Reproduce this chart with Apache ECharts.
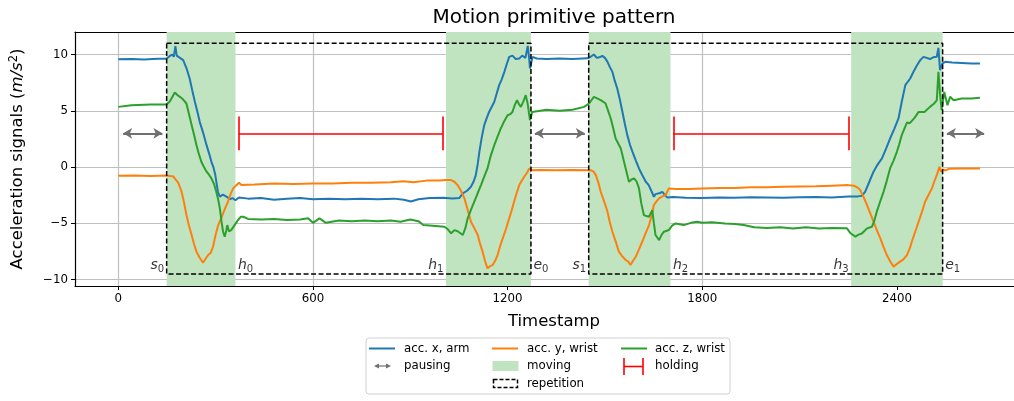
<!DOCTYPE html>
<html>
<head>
<meta charset="utf-8">
<script src="https://cdn.jsdelivr.net/npm/echarts@6/dist/echarts.min.js"></script>
<style>
html, body { margin: 0; padding: 0; background: #fff; }
#chart { width: 1014px; height: 401px; }
</style>
</head>
<body>
<div id="chart"></div>
<script>
// acc. x, arm
var tArm = [0,40,80,120,148,158,166,171,176,180,190,200,210,220,228,236,244,251,262,272,280,287,293,299,307,313,322,332,338,345,352,361,372,400,440,480,520,560,600,650,700,750,800,850,880,902,925,960,1000,1030,1051,1062,1075,1087,1095,1102,1108,1113,1120,1128,1135,1143,1150,1159,1166,1174,1182,1190,1198,1205,1215,1225,1236,1245,1255,1262,1266,1269,1277,1290,1320,1360,1400,1446,1456,1466,1475,1483,1492,1500,1508,1515,1523,1530,1538,1546,1554,1561,1569,1577,1585,1595,1605,1615,1626,1635,1641,1646,1651,1656,1662,1670,1677,1685,1692,1710,1750,1800,1850,1900,1950,2000,2050,2100,2150,2200,2250,2280,2292,2302,2315,2328,2340,2354,2366,2379,2392,2405,2415,2426,2434,2441,2450,2462,2472,2482,2492,2502,2512,2523,2528,2533,2540,2549,2570,2600,2630,2656]
var accArmX = [9.58,9.6,9.55,9.62,9.62,9.85,10.0,9.8,10.75,9.9,9.7,9.5,8.8,7.87,6.8,5.8,4.9,4.02,3.0,1.95,1.2,0.47,0,-0.71,-2.19,-2.63,-2.45,-2.6,-2.45,-2.85,-2.75,-2.95,-2.7,-2.8,-2.75,-2.9,-2.8,-2.75,-2.85,-2.8,-2.85,-2.8,-2.85,-2.8,-2.9,-3.05,-2.85,-2.75,-2.72,-2.78,-2.75,-2.34,-2.1,-1.75,-1.3,-0.71,0.3,1.36,2.6,3.73,4.3,4.9,5.3,5.8,6.5,7.28,7.8,8.46,9.2,9.79,9.9,9.6,9.65,9.9,9.7,10.77,9.8,8.76,9.79,9.65,9.6,9.65,9.6,9.66,9.8,10.0,9.7,9.75,9.88,9.7,9.35,8.9,8.46,7.7,6.98,6.0,4.9,3.9,2.84,2.0,1.36,0.6,-0.12,-0.7,-1.3,-1.6,-1.75,-2.3,-2.64,-2.4,-2.5,-2.3,-2.19,-2.5,-2.69,-2.65,-2.72,-2.75,-2.7,-2.72,-2.68,-2.7,-2.72,-2.68,-2.66,-2.7,-2.62,-2.6,-2.55,-2.19,-1.3,-0.41,0.2,0.77,1.6,2.54,3.4,4.32,5.8,7.28,7.6,7.87,8.4,9.05,9.5,9.79,9.7,9.6,9.75,9.8,10.59,8.6,9.2,9.35,9.3,9.25,9.2,9.2]

// acc. y, wrist
var tWristY = [0,50,100,148,160,169,175,185,195,203,210,218,226,234,241,250,261,270,277,285,292,300,308,315,323,330,338,346,354,364,372,380,420,480,540,600,660,720,780,840,880,910,950,990,1010,1026,1036,1046,1056,1067,1077,1087,1097,1108,1115,1123,1130,1138,1146,1154,1162,1169,1177,1185,1195,1205,1213,1220,1228,1236,1244,1251,1260,1267,1275,1300,1350,1400,1456,1465,1472,1480,1487,1497,1508,1515,1523,1533,1543,1553,1564,1572,1579,1587,1595,1605,1615,1625,1636,1644,1651,1660,1667,1677,1687,1697,1720,1760,1800,1850,1900,1950,2000,2050,2100,2150,2200,2250,2267,2278,2287,2298,2308,2318,2328,2338,2349,2359,2369,2380,2390,2400,2410,2420,2431,2440,2446,2457,2467,2477,2487,2497,2508,2515,2523,2531,2536,2542,2550,2560,2600,2656]
var accWristY = [-0.77,-0.75,-0.8,-0.75,-0.8,-0.82,-0.9,-1.4,-2.19,-3.2,-4.26,-5.2,-6.03,-6.9,-7.51,-8.0,-8.49,-8.1,-7.81,-7.6,-7.07,-6.0,-5.15,-4.7,-4.11,-3.6,-3.08,-2.4,-1.89,-1.6,-1.4,-1.6,-1.55,-1.45,-1.5,-1.45,-1.45,-1.4,-1.4,-1.35,-1.25,-1.35,-1.2,-1.2,-1.15,-1.15,-1.3,-1.6,-2.1,-2.78,-3.8,-4.85,-5.4,-6.03,-6.8,-7.51,-8.3,-8.99,-8.8,-8.7,-8.3,-7.81,-7.0,-6.33,-5.5,-4.55,-3.8,-3.08,-2.3,-1.6,-1.2,-0.86,-0.5,-0.12,-0.27,-0.25,-0.28,-0.25,-0.27,-0.4,-0.71,-1.4,-2.19,-3.0,-3.96,-4.9,-5.74,-6.6,-7.51,-7.9,-8.25,-8.4,-8.7,-8.3,-7.96,-7.3,-6.63,-5.9,-5.15,-4.3,-3.37,-3.0,-2.78,-2.6,-2.48,-1.89,-1.95,-1.95,-1.9,-1.85,-1.85,-1.8,-1.8,-1.75,-1.72,-1.7,-1.65,-1.6,-1.65,-1.8,-2.04,-2.7,-3.37,-4.1,-4.85,-5.6,-6.33,-7.1,-7.81,-8.4,-8.84,-8.6,-8.4,-8.2,-7.81,-7.2,-6.63,-5.7,-4.85,-4.0,-3.08,-2.5,-1.89,-1.3,-0.71,0.03,-0.4,-0.2,-0.3,-0.15,-0.12,-0.12]

// acc. z, wrist
var tWristZ = [0,40,100,148,158,164,174,182,190,200,210,218,226,234,241,248,256,264,272,280,287,295,302,308,313,318,323,328,333,336,341,348,354,362,369,378,385,400,440,480,520,560,585,600,620,640,680,720,760,800,840,870,900,925,940,970,1005,1015,1026,1036,1046,1062,1070,1077,1087,1097,1108,1118,1128,1138,1148,1159,1169,1179,1190,1200,1208,1215,1222,1229,1235,1241,1248,1256,1262,1269,1276,1282,1320,1360,1400,1436,1451,1466,1476,1487,1495,1502,1510,1518,1526,1533,1541,1549,1557,1564,1574,1582,1590,1598,1605,1612,1620,1628,1636,1641,1646,1651,1656,1667,1675,1682,1697,1707,1718,1743,1765,1785,1800,1830,1870,1900,1928,1960,2000,2040,2080,2120,2160,2200,2246,2258,2272,2282,2292,2308,2323,2330,2338,2348,2359,2369,2379,2390,2400,2407,2415,2423,2431,2440,2446,2455,2467,2485,2502,2513,2523,2528,2533,2538,2546,2556,2564,2575,2600,2630,2656]
var accWristZ = [5.35,5.5,5.55,5.55,5.8,6.1,6.63,6.4,6.24,6.0,5.65,4.7,3.73,2.8,1.95,1.2,0.47,0.0,-0.41,-0.7,-1.0,-1.5,-2.19,-2.9,-3.67,-4.8,-5.74,-6.18,-5.6,-5.15,-5.7,-5.6,-5.44,-5.0,-4.7,-4.4,-4.41,-4.6,-4.65,-4.6,-4.7,-4.65,-4.55,-4.95,-4.55,-4.95,-4.75,-4.8,-4.75,-4.8,-4.75,-4.85,-4.65,-4.8,-5.15,-5.2,-5.3,-5.5,-5.88,-5.6,-5.7,-6.03,-5.4,-4.55,-3.8,-3.08,-2.3,-1.6,-0.85,-0.12,1.0,1.95,2.7,3.43,4.1,4.61,4.7,4.9,5.5,5.94,5.6,5.35,5.8,6.39,5.6,4.17,4.9,5.06,5.1,5.0,5.1,5.35,5.65,6.24,6.1,5.94,5.8,5.65,5.0,4.32,3.4,2.54,2.1,1.66,0.7,-0.12,-1.3,-1.1,-1.0,-1.3,-1.89,-3.2,-4.26,-4.35,-4.41,-4.3,-3.82,-5.0,-6.03,-6.48,-6.0,-5.74,-5.59,-5.2,-5.0,-5.15,-4.95,-4.85,-4.95,-4.9,-5.0,-5.05,-5.15,-5.35,-5.4,-5.35,-5.45,-5.35,-5.45,-5.4,-5.44,-5.9,-6.18,-6.0,-5.9,-5.44,-5.3,-4.8,-3.96,-3.1,-2.19,-1.2,-0.12,0.6,1.36,2.0,2.84,3.4,3.96,3.9,3.9,4.4,4.9,4.9,5.35,5.6,5.94,8.46,6.5,5.06,6.68,5.5,6.24,5.94,6.1,6.1,6.15]

// phases
var movingStart = [149, 1010, 1450, 2259]
var movingEnd = [361, 1272, 1702, 2541]
var repStart = [149, 1450]
var repEnd = [1272, 2541]
var repTop = 11
var repBottom = -9.5
var pauseFrom = [15, 1284, 2554]
var pauseTo = [136, 1438, 2669]
var holdFrom = [371, 1711]
var holdTo = [1001, 2251]
var markLevel = 3
var holdCap = 1.5
var phaseNames = ['s', 'h', 'h', 'e', 's', 'h', 'h', 'e']
var phaseIdx = [0, 0, 1, 0, 1, 2, 3, 1]
var phaseT = [149, 361, 1010, 1272, 1450, 1702, 2259, 2541]
var phaseY = -8.7

var xTicks = [0, 600, 1200, 1800, 2400]
var yTicks = [-10, -5, 0, 5, 10]
var xMin = -133.5, xMax = 2761
var yMin = -10.56, yMax = 12

var font = 'DejaVu Sans'
var blue = '#1f77b4', orange = '#ff7f0e', green = '#2ca02c'
var moveFill = '#c0e3c0'

function pairs(t, v) {
    return t.map(function (x, i) { return [x, v[i]] })
}
function tickText(v) {
    return v < 0 ? '\u2212' + Math.abs(v) : String(v)
}

var chart = echarts.init(document.getElementById('chart'))

var lineSeries = function (name, t, v, color) {
    return {
        name: name, type: 'line', data: pairs(t, v), showSymbol: false, symbol: 'none',
        lineStyle: { color: color, width: 2 }, itemStyle: { color: color }, z: 3, silent: true
    }
}

var series = []

// moving regions
series.push({
    type: 'line', data: [], z: 1, silent: true,
    markArea: {
        silent: true,
        itemStyle: { color: moveFill },
        data: movingStart.map(function (s, i) { return [{ xAxis: s }, { xAxis: movingEnd[i] }] })
    }
})

series.push(lineSeries('acc. x, arm', tArm, accArmX, blue))
series.push(lineSeries('acc. y, wrist', tWristY, accWristY, orange))
series.push(lineSeries('acc. z, wrist', tWristZ, accWristZ, green))

// repetition boxes
repStart.forEach(function (s, i) {
    var e = repEnd[i]
    series.push({
        type: 'line', silent: true, showSymbol: false, symbol: 'none', z: 4,
        data: [[s, repTop], [e, repTop], [e, repBottom], [s, repBottom], [s, repTop]],
        lineStyle: { color: '#000', width: 1.5, type: [5, 2.5] }
    })
})

// pausing arrows + holding brackets
var holdLines = []
holdFrom.forEach(function (s, i) {
    var e = holdTo[i]
    holdLines.push([{ coord: [s, markLevel] }, { coord: [e, markLevel] }])
    holdLines.push([{ coord: [s, markLevel - holdCap] }, { coord: [s, markLevel + holdCap] }])
    holdLines.push([{ coord: [e, markLevel - holdCap] }, { coord: [e, markLevel + holdCap] }])
})
series.push({
    type: 'line', data: [], z: 5, silent: true,
    markLine: {
        silent: true, animation: false,
        symbol: ['arrow', 'arrow'], symbolSize: [8, 9],
        label: { show: false },
        lineStyle: { color: '#707070', width: 2, type: 'solid' },
        data: pauseFrom.map(function (s, i) { return [{ coord: [s, markLevel] }, { coord: [pauseTo[i], markLevel] }] })
    }
})
series.push({
    type: 'line', data: [], z: 5, silent: true,
    markLine: {
        silent: true, animation: false,
        symbol: ['none', 'none'],
        label: { show: false },
        lineStyle: { color: '#ff0000', width: 1.6, type: 'solid' },
        data: holdLines
    }
})

// phase labels
series.push({
    type: 'scatter', silent: true, z: 6, symbolSize: 1,
    itemStyle: { color: 'rgba(0,0,0,0)' },
    data: phaseT.map(function (t, i) {
        var n = phaseNames[i]
        var right = n === 'e' || (n === 'h' && phaseIdx[i] % 2 === 0)
        return {
            value: [t, phaseY],
            label: {
                show: true, position: right ? 'right' : 'left', distance: 2,
                formatter: '{i|' + n + '}{sub|' + phaseIdx[i] + '}',
                rich: {
                    i: { fontFamily: font, fontStyle: 'italic', fontSize: 14, color: '#000', lineHeight: 18, verticalAlign: 'middle' },
                    sub: { fontFamily: font, fontSize: 10, color: '#000', lineHeight: 18, verticalAlign: 'bottom', padding: [6, 0, 0, 0] }
                }
            }
        }
    })
})

var axisLineStyle = { show: true, onZero: false, lineStyle: { color: '#000', width: 1.2 } }

var option = {
    animation: false,
    backgroundColor: '#fff',
    title: {
        text: 'Motion primitive pattern',
        left: 549, top: 3, textAlign: 'center',
        textStyle: { fontFamily: font, fontSize: 20, fontWeight: 'normal', color: '#000' }
    },
    grid: { left: 73, right: 0, top: 32, bottom: 115, containLabel: false },
    xAxis: [{
        type: 'value', min: xMin, max: xMax,
        name: 'Timestamp', nameLocation: 'middle', nameGap: 27,
        nameTextStyle: { fontFamily: font, fontSize: 16.5, color: '#000', padding: [0, 0, 0, 19] },
        axisLine: axisLineStyle,
        axisTick: { show: true, length: 4, customValues: xTicks, lineStyle: { color: '#000' } },
        axisLabel: { customValues: xTicks, formatter: tickText, fontFamily: font, fontSize: 11.8, color: '#000', margin: 7 },
        splitLine: { show: true, showMinLine: true, showMaxLine: false, lineStyle: { color: '#c0c0c0', width: 1.2 } }
    }, {
        type: 'value', min: xMin, max: xMax, position: 'top',
        axisLine: axisLineStyle, axisTick: { show: false }, axisLabel: { show: false }, splitLine: { show: false }
    }],
    yAxis: {
        type: 'value', min: yMin, max: yMax,
        name: '{a|Acceleration signals (}{i|m/s}{sup|2}{a|)}',
        nameLocation: 'middle', nameGap: 47, nameRotate: 90,
        nameTextStyle: {
            rich: {
                a: { fontFamily: font, fontSize: 16.5, color: '#000' },
                i: { fontFamily: font, fontSize: 16.5, fontStyle: 'italic', color: '#000' },
                sup: { fontFamily: font, fontSize: 11.5, color: '#000', verticalAlign: 'top', padding: [0, 0, 8, 0] }
            }
        },
        axisLine: axisLineStyle,
        axisTick: { show: true, length: 4, customValues: yTicks, lineStyle: { color: '#000' } },
        axisLabel: { customValues: yTicks, formatter: tickText, fontFamily: font, fontSize: 11.8, color: '#000', margin: 7 },
        splitLine: { show: true, lineStyle: { color: '#c0c0c0', width: 1.2 } }
    },
    series: series,
    graphic: [
        { type: 'rect', z: 100, shape: { x: 366, y: 338, width: 364, height: 56, r: 3 }, style: { fill: '#fff', stroke: '#d0d0d0', lineWidth: 1 } },
        // row 1
        { type: 'line', z: 101, shape: { x1: 369, y1: 348.5, x2: 395, y2: 348.5 }, style: { stroke: blue, lineWidth: 2 } },
        { type: 'text', z: 101, style: { text: 'acc. x, arm', x: 404, y: 348.5, fill: '#000', font: '11.8px "DejaVu Sans"', verticalAlign: 'middle' } },
        { type: 'line', z: 101, shape: { x1: 492, y1: 348.5, x2: 518, y2: 348.5 }, style: { stroke: orange, lineWidth: 2 } },
        { type: 'text', z: 101, style: { text: 'acc. y, wrist', x: 527, y: 348.5, fill: '#000', font: '11.8px "DejaVu Sans"', verticalAlign: 'middle' } },
        { type: 'line', z: 101, shape: { x1: 621, y1: 348.5, x2: 647, y2: 348.5 }, style: { stroke: green, lineWidth: 2 } },
        { type: 'text', z: 101, style: { text: 'acc. z, wrist', x: 655, y: 348.5, fill: '#000', font: '11.8px "DejaVu Sans"', verticalAlign: 'middle' } },
        // row 2
        { type: 'line', z: 101, shape: { x1: 377, y1: 366, x2: 388, y2: 366 }, style: { stroke: '#707070', lineWidth: 1.2 } },
        { type: 'polygon', z: 101, shape: { points: [[374, 366], [379, 363.5], [379, 368.5]] }, style: { fill: '#707070' } },
        { type: 'polygon', z: 101, shape: { points: [[391, 366], [386, 363.5], [386, 368.5]] }, style: { fill: '#707070' } },
        { type: 'text', z: 101, style: { text: 'pausing', x: 404, y: 366, fill: '#000', font: '11.8px "DejaVu Sans"', verticalAlign: 'middle' } },
        { type: 'rect', z: 101, shape: { x: 492.5, y: 361, width: 26, height: 10 }, style: { fill: moveFill } },
        { type: 'text', z: 101, style: { text: 'moving', x: 527, y: 366, fill: '#000', font: '11.8px "DejaVu Sans"', verticalAlign: 'middle' } },
        { type: 'line', z: 101, shape: { x1: 624, y1: 366.5, x2: 643, y2: 366.5 }, style: { stroke: '#ff0000', lineWidth: 1.6 } },
        { type: 'line', z: 101, shape: { x1: 624, y1: 358, x2: 624, y2: 375 }, style: { stroke: '#ff0000', lineWidth: 1.6 } },
        { type: 'line', z: 101, shape: { x1: 643, y1: 358, x2: 643, y2: 375 }, style: { stroke: '#ff0000', lineWidth: 1.6 } },
        { type: 'text', z: 101, style: { text: 'holding', x: 655, y: 366, fill: '#000', font: '11.8px "DejaVu Sans"', verticalAlign: 'middle' } },
        // row 3
        { type: 'rect', z: 101, shape: { x: 493.5, y: 379.5, width: 24, height: 8 }, style: { fill: 'none', stroke: '#000', lineWidth: 1.5, lineDash: [4, 2] } },
        { type: 'text', z: 101, style: { text: 'repetition', x: 527, y: 383.5, fill: '#000', font: '11.8px "DejaVu Sans"', verticalAlign: 'middle' } }
    ]
}

chart.setOption(option)
</script>
</body>
</html>
